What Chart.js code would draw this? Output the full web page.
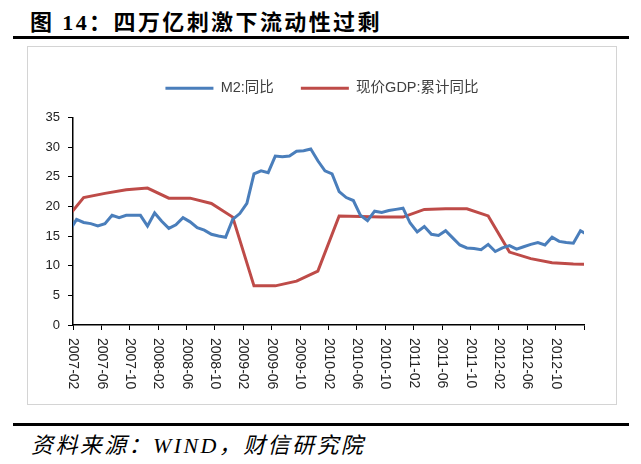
<!DOCTYPE html>
<html>
<head>
<meta charset="utf-8">
<script src="https://cdn.jsdelivr.net/npm/chart.js@4.4.0/dist/chart.umd.min.js"></script>
<style>
  body { margin: 0; background: #fff; width: 641px; height: 464px; position: relative; overflow: hidden; }
  #title { position: absolute; left: 30px; top: 4px; font: bold 22px 'Liberation Serif', 'Noto Sans CJK SC'; letter-spacing: 2.4px; color: #000; white-space: nowrap; }
  .rule { position: absolute; left: 13px; width: 616px; height: 3px; background: #000; }
  #box { position: absolute; left: 27px; top: 46px; width: 588px; height: 357px; border: 1px solid #d4d4d4; }
  #src { position: absolute; left: 31px; top: 427px; font: italic 22px 'Liberation Serif', 'Noto Sans CJK SC'; letter-spacing: 2.4px; color: #000; white-space: nowrap; }
</style>
</head>
<body>
<div id="title">图 14：四万亿刺激下流动性过剩</div>
<div class="rule" style="top:36px"></div>
<div id="box"><canvas id="myChart" width="588" height="357"></canvas></div>
<div class="rule" style="top:423px"></div>
<div id="src">资料来源：WIND，财信研究院</div>

<script>
// M2 同比, monthly from 2007-01
const m2Start = '2007-01';
const m2Values = [
  15.9, 17.8, 17.3, 17.1, 16.7, 17.1, 18.5, 18.1, 18.5, 18.5, 18.5, 16.7,
  18.9, 17.5, 16.3, 16.9, 18.1, 17.4, 16.4, 16.0, 15.3, 15.0, 14.8, 17.8,
  18.8, 20.5, 25.5, 26.0, 25.7, 28.5, 28.4, 28.5, 29.3, 29.4, 29.7, 27.7,
  26.0, 25.5, 22.5, 21.5, 21.0, 18.5, 17.6, 19.2, 19.0, 19.3, 19.5, 19.7,
  17.2, 15.7, 16.6, 15.3, 15.1, 15.9, 14.7, 13.5, 13.0, 12.9, 12.7, 13.6,
  12.4, 13.0, 13.4, 12.8, 13.2, 13.6, 13.9, 13.5, 14.8, 14.1, 13.9, 13.8,
  15.9, 15.2
];

// 现价GDP 累计同比, quarterly
const gdpMonths = [
  '2006-12', '2007-03', '2007-06', '2007-09', '2007-12', '2008-03', '2008-06', '2008-09', '2008-12',
  '2009-03', '2009-06', '2009-09', '2009-12', '2010-03', '2010-06', '2010-09', '2010-12',
  '2011-03', '2011-06', '2011-09', '2011-12', '2012-03', '2012-06', '2012-09', '2012-12', '2013-03'
];
const gdpValues = [
  17.1, 21.5, 22.2, 22.8, 23.1, 21.4, 21.4, 20.5, 18.2,
  6.6, 6.6, 7.4, 9.1, 18.4, 18.3, 18.2, 18.2,
  19.5, 19.6, 19.6, 18.4, 12.3, 11.2, 10.5, 10.3, 10.2
];

const tickLabels = [
  '2007-02', '2007-06', '2007-10', '2008-02', '2008-06', '2008-10', '2009-02', '2009-06', '2009-10',
  '2010-02', '2010-06', '2010-10', '2011-02', '2011-06', '2011-10', '2012-02', '2012-06', '2012-10'
];
const yTicks = [0, 5, 10, 15, 20, 25, 30, 35];

// months counted from 2007-02 (axis start)
function monthPos(s) {
  const [y, m] = s.split('-').map(Number);
  return (y - 2007) * 12 + (m - 2);
}

const m2Data = m2Values.map((v, i) => ({ x: monthPos(m2Start) + i + 0.5, y: v }));
const gdpData = gdpValues.map((v, i) => ({ x: monthPos(gdpMonths[i]) + 0.5, y: v }));

// rotated x labels (reading top to bottom)
const xLabels = {
  id: 'xLabels',
  afterDraw(chart) {
    const { ctx, chartArea } = chart;
    const x = chart.scales.x;
    ctx.save();
    ctx.font = '14px "Liberation Sans"';
    ctx.fillStyle = '#222';
    ctx.textAlign = 'left';
    ctx.textBaseline = 'middle';
    tickLabels.forEach((t) => {
      ctx.save();
      ctx.translate(x.getPixelForValue(monthPos(t)), chartArea.bottom + 13);
      ctx.rotate(Math.PI / 2);
      ctx.fillText(t, 0, 0);
      ctx.restore();
    });
    ctx.restore();
  }
};

// extra space under the legend
const legendGap = {
  id: 'legendGap',
  beforeInit(chart) {
    const fit = chart.legend.fit;
    chart.legend.fit = function () {
      fit.call(this);
      this.height += 12;
    };
  }
};

const ctx = document.getElementById('myChart');
new Chart(ctx, {
  type: 'line',
  data: {
    datasets: [{
      label: 'M2:同比',
      data: m2Data,
      borderColor: '#4a7ebb',
      backgroundColor: '#4a7ebb',
      borderWidth: 3,
      pointRadius: 0,
      tension: 0
    }, {
      label: '现价GDP:累计同比',
      data: gdpData,
      borderColor: '#be4b48',
      backgroundColor: '#be4b48',
      borderWidth: 3,
      pointRadius: 0,
      tension: 0
    }]
  },
  options: {
    responsive: false,
    animation: false,
    layout: { padding: { top: 7, right: 0, left: 0, bottom: 0 } },
    plugins: {
      tooltip: { enabled: false },
      legend: {
        labels: {
          font: { size: 14.5, family: "'Liberation Sans', 'Noto Sans CJK SC'" },
          color: '#404040',
          padding: 27,
          usePointStyle: true,
          pointStyle: 'line',
          pointStyleWidth: 48
        }
      }
    },
    scales: {
      x: {
        type: 'linear',
        min: 0,
        max: 72,
        ticks: { display: false, stepSize: 4 },
        grid: { drawOnChartArea: false, drawTicks: true, tickLength: 5, color: '#000' },
        border: { color: '#000', width: 1.5 },
        afterFit: (s) => { s.height = 79; s.paddingRight = 32; }
      },
      y: {
        min: 0,
        max: 35,
        afterBuildTicks: (s) => { s.ticks = yTicks.map(v => ({ value: v })); },
        ticks: { font: { size: 13, family: "'Liberation Sans'" }, color: '#222', padding: 8 },
        grid: { drawOnChartArea: false, drawTicks: true, tickLength: 5, color: '#000' },
        border: { color: '#000', width: 1.5 },
        afterFit: (s) => { s.width = 45; }
      }
    }
  },
  plugins: [xLabels, legendGap]
});
</script>
</body>
</html>
